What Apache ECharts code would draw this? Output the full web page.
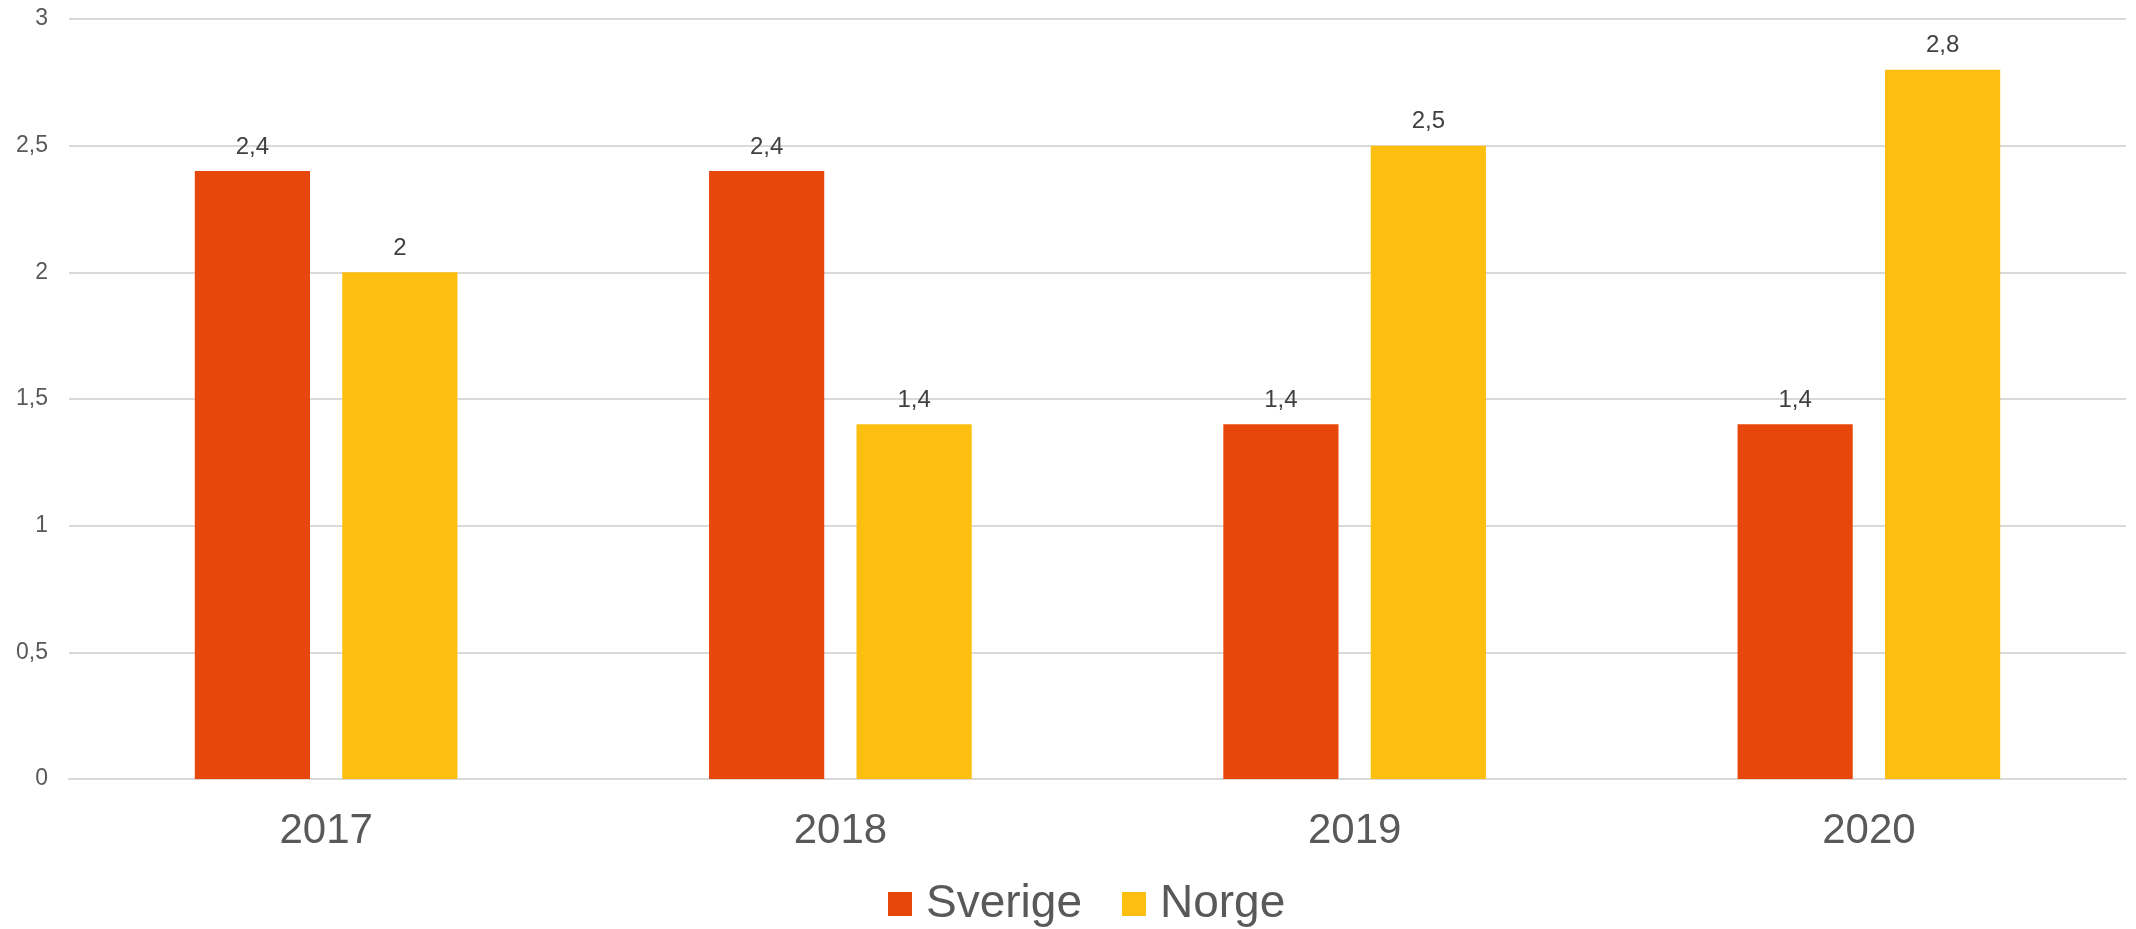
<!DOCTYPE html>
<html>
<head>
<meta charset="utf-8">
<script src="https://cdn.jsdelivr.net/npm/echarts@6/dist/echarts.min.js"></script>
<style>
  html, body { margin: 0; padding: 0; background: #ffffff; }
  #chart { width: 2136px; height: 929px; }
</style>
</head>
<body>
<div id="chart"></div>
<script>
// data
const years = ['2017', '2018', '2019', '2020'];
const sverige = [2.4, 2.4, 1.4, 1.4];
const norge = [2, 1.4, 2.5, 2.8];

const fmt = v => String(v).replace('.', ',');

const chart = echarts.init(document.getElementById('chart'));

const labelStyle = {
  show: true,
  position: 'top',
  distance: 12,
  fontFamily: 'Liberation Sans',
  fontSize: 24,
  color: '#404040',
  formatter: p => fmt(p.value)
};

const option = {
  backgroundColor: '#ffffff',
  animation: false,
  textStyle: { fontFamily: 'Liberation Sans' },
  grid: {
    left: 69,
    right: 10,
    top: 19,
    bottom: 150
  },
  legend: {
    top: 876,
    left: 883,
    itemWidth: 24,
    itemHeight: 24,
    itemGap: 40,
    icon: 'rect',
    textStyle: {
      fontSize: 46,
      color: '#595959',
      fontFamily: 'Liberation Sans',
      padding: [0, 0, 0, 9]
    },
    data: ['Sverige', 'Norge']
  },
  xAxis: {
    type: 'category',
    data: years,
    axisLine: { lineStyle: { color: '#d9d9d9', width: 2 } },
    axisTick: { show: false },
    axisLabel: { fontSize: 42, color: '#595959', margin: 31 }
  },
  yAxis: {
    type: 'value',
    min: 0,
    max: 3,
    interval: 0.5,
    axisLine: { show: false },
    axisTick: { show: false },
    splitLine: { lineStyle: { color: '#d9d9d9', width: 2 } },
    axisLabel: { fontSize: 23, color: '#595959', margin: 21, formatter: v => fmt(v) }
  },
  series: [
    {
      name: 'Sverige',
      type: 'bar',
      data: sverige,
      barWidth: '22.4%',
      barGap: '28%',
      itemStyle: { color: '#e8470b' },
      label: labelStyle
    },
    {
      name: 'Norge',
      type: 'bar',
      data: norge,
      barWidth: '22.4%',
      itemStyle: { color: '#fdbf0f' },
      label: labelStyle
    }
  ]
};

chart.setOption(option);
</script>
</body>
</html>
